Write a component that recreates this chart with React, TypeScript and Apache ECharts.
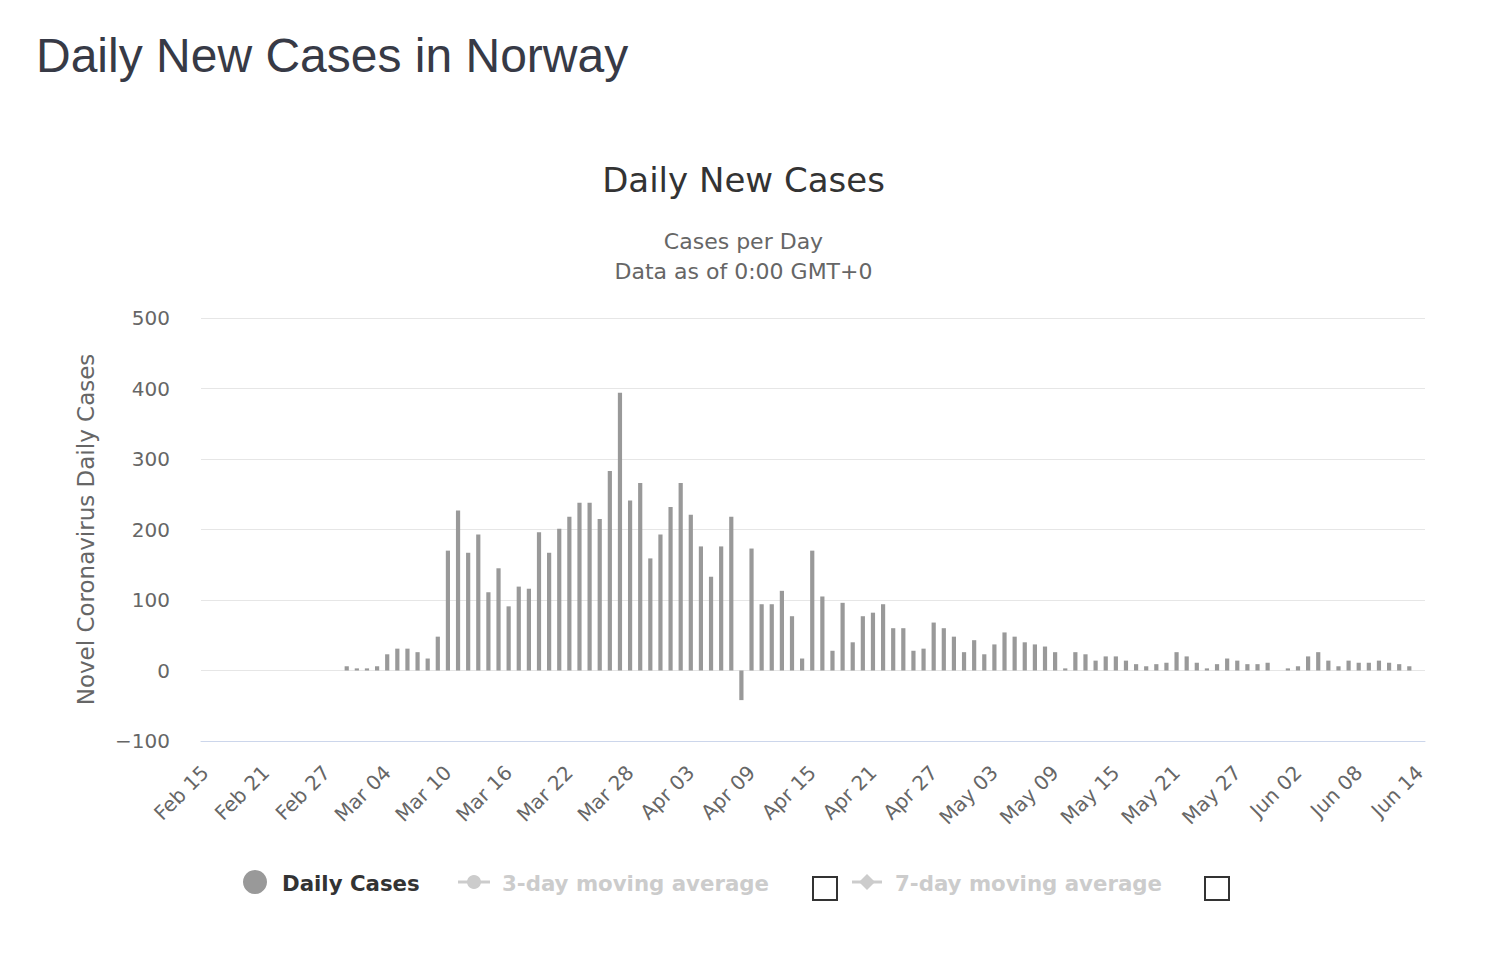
import React, { useEffect, useRef } from "react";
import * as echarts from "echarts";

const FONT = "DejaVu Sans";

const tickLabels = [
  "Feb 15", "Feb 21", "Feb 27", "Mar 04", "Mar 10", "Mar 16", "Mar 22",
  "Mar 28", "Apr 03", "Apr 09", "Apr 15", "Apr 21", "Apr 27", "May 03",
  "May 09", "May 15", "May 21", "May 27", "Jun 02", "Jun 08", "Jun 14",
];
const tickStep = 6; // one label every 6 days

// Daily new cases, Feb 15 .. Jun 14 (one entry per day)
const dailyCases: (number | null)[] = [
  null, null, null, null, null, null, null, null, null, null, null, null,
  0, 0, 6, 3, 3, 6, 23, 31, 31, 26, 17, 48,
  170, 227, 167, 193, 111, 145, 91, 119, 116, 196, 167, 201,
  218, 238, 238, 215, 283, 394, 241, 266, 159, 193, 232, 266,
  221, 176, 133, 176, 218, -42, 173, 94, 94, 113, 77, 17,
  170, 105, 28, 96, 40, 77, 82, 94, 60, 60, 28, 31,
  68, 60, 48, 26, 43, 23, 37, 54, 48, 40, 37, 34,
  26, 3, 26, 23, 14, 20, 20, 14, 9, 6, 9, 11,
  26, 20, 11, 3, 9, 17, 14, 9, 9, 11, 0, 3,
  6, 20, 26, 14, 6, 14, 11, 11, 14, 11, 9, 6,
  0,
];

const legendNames = ["Daily Cases", "3-day moving average", "7-day moving average"];

export default function App() {
  const ref = useRef<HTMLDivElement>(null);

  useEffect(() => {
    document.body.style.margin = "0";
    const chart = echarts.init(ref.current!, null, { renderer: "svg" });
    const tickPositions = tickLabels.map((_, k) => k * tickStep);

    const legendText = (x: number, text: string, fill: string) => ({
      type: "text",
      x,
      y: 883,
      style: {
        text,
        fontFamily: FONT,
        fontSize: 21.3,
        fontWeight: "bold",
        fill,
        verticalAlign: "middle",
        textVerticalAlign: "middle",
      },
    });

    chart.setOption({
      animation: false,
      backgroundColor: "#ffffff",
      textStyle: { fontFamily: FONT },
      title: [
        {
          text: "Daily New Cases in Norway",
          left: 36,
          top: 31,
          padding: 0,
          textStyle: {
            fontFamily: "Liberation Sans, Arial, sans-serif",
            fontSize: 48,
            fontWeight: "normal",
            color: "#373a46",
          },
        },
        {
          text: "Daily New Cases",
          left: "center",
          top: 163,
          padding: 0,
          textStyle: { fontFamily: FONT, fontSize: 34, fontWeight: "normal", color: "#333333" },
        },
        {
          text: "Cases per Day",
          left: "center",
          top: 230,
          padding: 0,
          textStyle: { fontFamily: FONT, fontSize: 22, fontWeight: "normal", color: "#666666" },
        },
        {
          text: "Data as of 0:00 GMT+0",
          left: "center",
          top: 260,
          padding: 0,
          textStyle: { fontFamily: FONT, fontSize: 22, fontWeight: "normal", color: "#666666" },
        },
      ],
      grid: { left: 201, right: 62, top: 318, bottom: 226 },
      xAxis: {
        type: "value",
        min: -0.4,
        max: 120.55,
        axisLine: { onZero: false, lineStyle: { color: "#ccd6eb", width: 1 } },
        axisTick: { show: false },
        splitLine: { show: false },
        axisLabel: {
          customValues: tickPositions,
          formatter: (v: number) => tickLabels[Math.round(v / tickStep)] ?? "",
          rotate: 45,
          fontSize: 20,
          color: "#666666",
          margin: 28,
          fontFamily: FONT,
        },
      },
      yAxis: {
        type: "value",
        min: -100,
        max: 500,
        interval: 100,
        name: "Novel Coronavirus Daily Cases",
        nameLocation: "middle",
        nameGap: 104,
        nameTextStyle: { fontSize: 23, color: "#666666", fontFamily: FONT },
        axisLine: { show: false },
        axisTick: { show: false },
        axisLabel: {
          fontSize: 20,
          color: "#666666",
          margin: 31,
          fontFamily: FONT,
          formatter: (v: number) => String(v).replace("-", "\u2212"),
        },
        splitLine: { lineStyle: { color: "#e6e6e6", width: 1 } },
      },
      series: [
        {
          name: legendNames[0],
          type: "bar",
          data: dailyCases.map((v, i) => [i, v]),
          barWidth: 4.2,
          itemStyle: { color: "#999999" },
        },
      ],
      graphic: [
        { type: "circle", shape: { cx: 255, cy: 882, r: 12 }, style: { fill: "#999999" } },
        legendText(282, legendNames[0], "#333333"),
        { type: "line", shape: { x1: 458, y1: 882, x2: 490, y2: 882 }, style: { stroke: "#cccccc", lineWidth: 3 } },
        { type: "circle", shape: { cx: 474, cy: 882, r: 7 }, style: { fill: "#cccccc" } },
        legendText(502, legendNames[1], "#cccccc"),
        {
          type: "rect",
          shape: { x: 813, y: 877, width: 24, height: 23 },
          style: { fill: "#ffffff", stroke: "#333333", lineWidth: 2 },
        },
        { type: "line", shape: { x1: 852, y1: 882, x2: 882, y2: 882 }, style: { stroke: "#cccccc", lineWidth: 3 } },
        {
          type: "polygon",
          shape: { points: [[867, 874], [875, 882], [867, 890], [859, 882]] },
          style: { fill: "#cccccc" },
        },
        legendText(895, legendNames[2], "#cccccc"),
        {
          type: "rect",
          shape: { x: 1205, y: 877, width: 24, height: 23 },
          style: { fill: "#ffffff", stroke: "#333333", lineWidth: 2 },
        },
      ],
    });

    return () => chart.dispose();
  }, []);

  return <div ref={ref} style={{ width: 1487, height: 967 }} />;
}
